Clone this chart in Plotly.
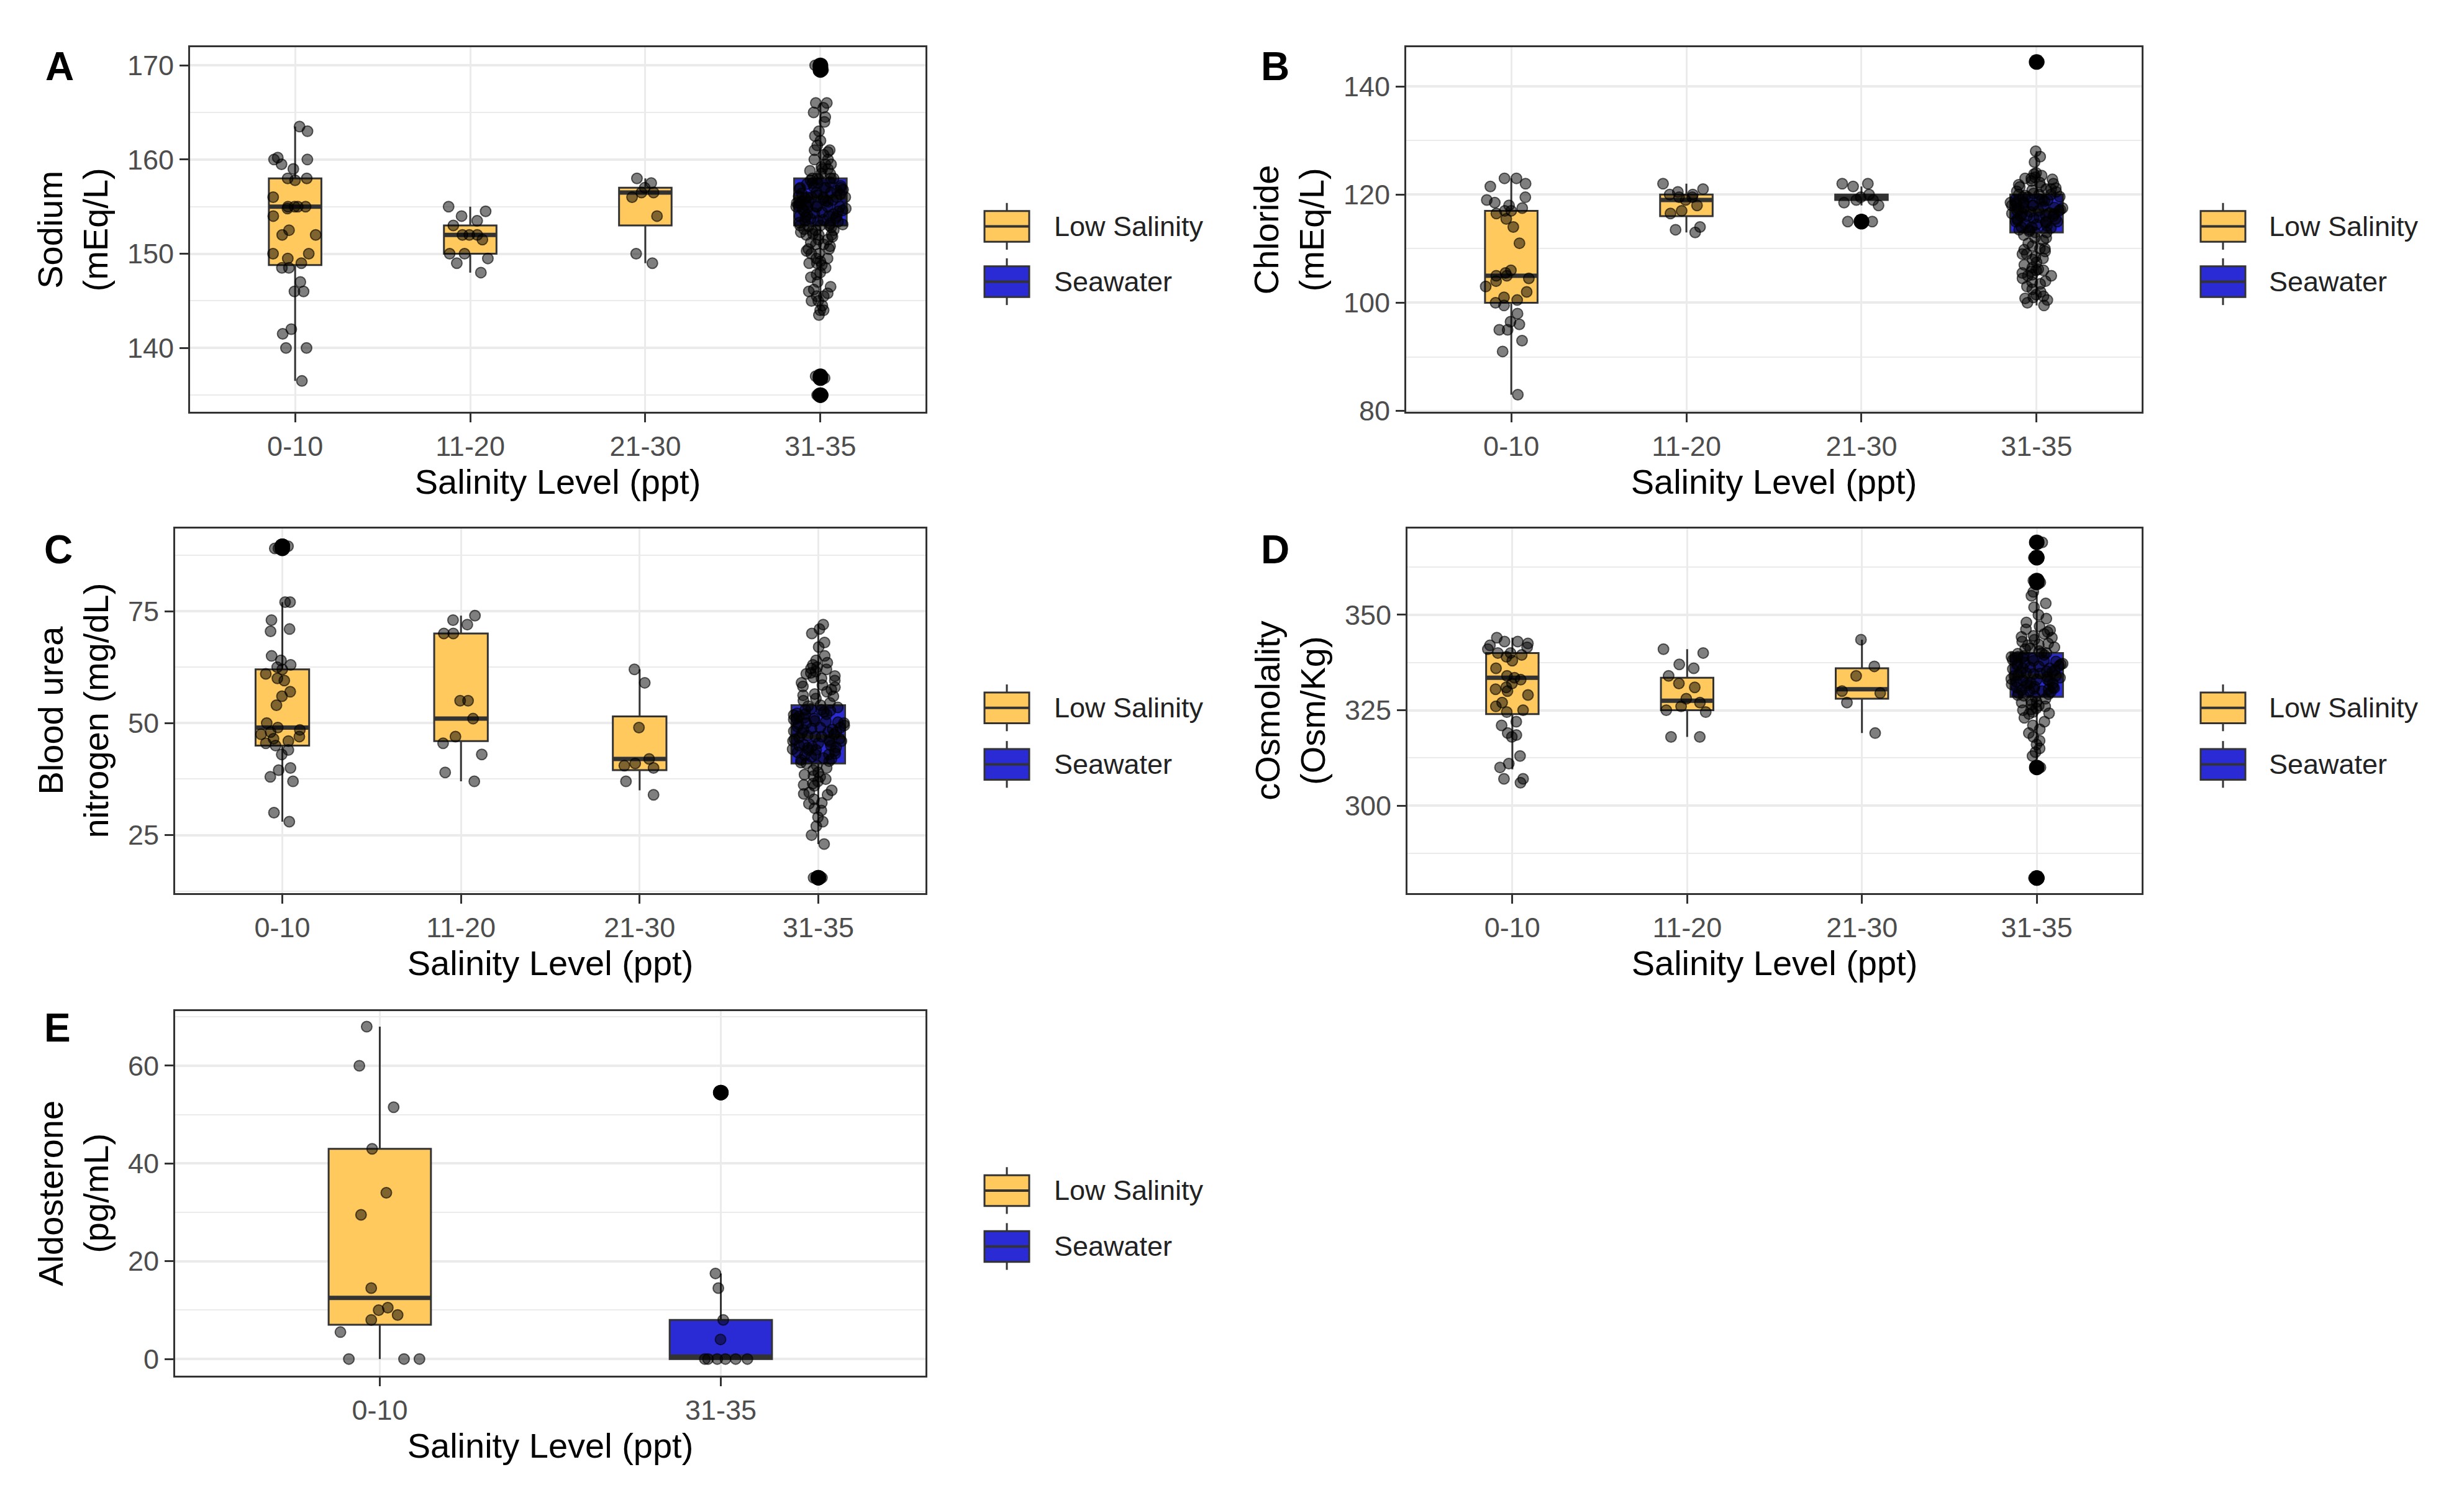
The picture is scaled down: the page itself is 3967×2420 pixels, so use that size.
import plotly.graph_objects as go

# ---------------- data ----------------
categories = ["0-10", "11-20", "21-30", "31-35"]
categories_e = ["0-10", "31-35"]
legend_labels = ["Low Salinity", "Seawater"]
x_title = "Salinity Level (ppt)"

# Panel A: Sodium (mEq/L)
na_q1 = [148.8, 150.0, 153.0, 153.0]
na_med = [155.0, 152.0, 156.5, 156.0]
na_q3 = [158.0, 153.0, 157.0, 158.0]
na_lo = [136.5, 148.0, 149.0, 144.0]
na_hi = [163.5, 155.0, 158.0, 166.0]
na_0_10 = [163.5, 163, 160, 160, 159.5, 160.2, 159, 158, 158, 157.8, 156, 155, 155, 155, 155,
           154.8, 154, 152.5, 152, 152, 150, 150, 149.5, 149, 148.5, 148.5, 147, 146, 146,
           142, 141.5, 140, 140, 136.5]
na_11_20 = [155, 154.5, 154, 153.5, 153, 152, 152, 152, 151.5, 150, 150, 149, 148, 149.5]
na_21_30 = [158, 157.5, 157, 156.5, 156, 156.5, 154, 150, 149]
na_31_35 = [170, 169.5, 169.8, 166, 166, 165.5, 165, 164.5, 164, 163, 162.5, 162, 161.5, 161, 161,
            160.5, 160, 160, 159.5, 159.5, 159, 159, 158.5, 158.5, 158, 158, 158, 157.8, 157.5,
            157.5, 157.2, 157, 157, 157, 156.8, 156.5, 156.5, 156.3, 156, 156, 156, 156, 155.8,
            155.5, 155.5, 155.5, 155.2, 155, 155, 155, 155, 154.8, 154.5, 154.5, 154.2, 154, 154,
            154, 153.8, 153.5, 153.5, 153.2, 153, 153, 153, 152.8, 152.5, 152.5, 152, 152, 152,
            151.5, 151.5, 151, 151, 150.5, 150.5, 150, 150, 149.5, 149.5, 149, 149, 148.5, 148,
            147.5, 147, 146.5, 146, 145.5, 145.5, 145, 145, 144.5, 144, 144, 143.5, 137, 136.8,
            135, 135,
            158, 157.6, 157.4, 157, 156.7, 156.4, 156.2, 156, 155.9, 155.7, 155.4, 155.1, 155,
            154.9, 154.6, 154.3, 154.1, 153.9, 153.6, 153.3, 153.1, 152.9, 152.6, 152.3, 152.1,
            151.8, 151.2, 150.8, 157.9, 156.9, 155.6, 154.4, 153.4, 152.4, 159.2, 160.8, 158.8,
            157.1, 156.1, 155.3, 154.7, 153.7, 150.3, 149.2, 148.8, 147.8, 146.2, 145.8]
na_out = [[], [], [], [170, 169.5, 169.8, 137, 136.8, 135, 135]]

# Panel B: Chloride (mEq/L)
cl_q1 = [100.0, 116.0, 119.0, 113.0]
cl_med = [105.0, 119.0, 119.5, 117.0]
cl_q3 = [117.0, 120.0, 120.0, 120.0]
cl_lo = [83.0, 113.0, 118.0, 99.5]
cl_hi = [123.0, 122.0, 121.5, 128.0]
cl_0_10 = [123, 123, 122, 121.5, 119.5, 119, 118.5, 118, 117.5, 117, 117, 116.5, 115.5, 114, 111,
           106, 105.5, 105, 105, 104.5, 104, 103, 102, 101, 100.5, 100, 99.5, 98, 96.5, 96, 95, 95,
           93, 91, 83]
cl_11_20 = [122, 121, 120.5, 120, 120, 119.5, 119.5, 119, 118, 117, 116.5, 114, 113.5, 113]
cl_21_30 = [122, 122, 121.5, 120, 119.5, 119, 119, 118.5, 118, 115, 115]
cl_31_35 = [144.5, 128, 127, 126, 124, 123.5, 123, 123, 122.5, 122, 121.5, 121, 121, 120.5, 120,
            120, 120, 119.5, 119.5, 119, 119, 119, 118.5, 118.5, 118, 118, 118, 117.5, 117.5, 117,
            117, 117, 116.5, 116.5, 116, 116, 116, 115.5, 115.5, 115, 115, 115, 114.5, 114.5, 114,
            114, 113.5, 113.5, 113, 113, 112.5, 112, 112, 111.5, 111, 110.5, 110, 110, 109.5, 109,
            109, 108.5, 108, 107.5, 107, 106.5, 106, 106, 105.5, 105, 105, 104.5, 104, 103.5, 103,
            102.5, 102, 101.5, 101, 100.5, 100, 99.5,
            123.8, 123.2, 122.8, 122.2, 121.8, 121.2, 120.8, 120.2, 119.8, 119.2, 118.8, 118.2,
            117.8, 117.2, 116.8, 116.2, 115.8, 115.2, 114.8, 114.2, 113.8, 113.2, 120.6, 119.6,
            118.6, 117.6, 116.6, 115.6, 121.4, 118.4, 117.4, 116.4, 106.2, 105.8, 105.2, 109.8,
            108.2, 101.2, 100.8, 103.8]
cl_out = [[], [], [115, 115], [144.5]]

# Panel C: Blood urea nitrogen (mg/dL)
bun_q1 = [45.0, 46.0, 39.5, 41.0]
bun_med = [49.0, 51.0, 42.0, 47.0]
bun_q3 = [62.0, 70.0, 51.5, 54.0]
bun_lo = [28.0, 37.0, 35.0, 23.0]
bun_hi = [77.0, 74.0, 62.0, 72.0]
bun_0_10 = [89.5, 89.5, 89, 89, 77, 77, 73, 71, 70.5, 65, 64, 63, 62.5, 62, 61, 60, 59.5, 57, 56,
            54, 50, 49, 48.5, 48, 47.5, 47, 46.5, 46, 45.5, 45, 44, 43, 40, 39.5, 38, 37, 30, 28]
bun_11_20 = [74, 73, 72, 70, 70, 55, 55, 51, 47, 45.5, 43, 39, 37]
bun_21_30 = [62, 59, 49, 42, 41, 40.5, 40, 37, 34]
bun_31_35 = [72, 71, 70, 68, 67, 65, 64, 63.5, 63, 62.5, 62, 61.5, 61, 60.5, 60, 59.5, 59, 58.5, 58,
             57.5, 57, 56.5, 56, 55.5, 55, 54.5, 54, 53.5, 53, 53, 52.5, 52, 52, 51.5, 51, 51, 50.5,
             50, 50, 49.5, 49, 49, 48.5, 48, 48, 47.5, 47, 47, 46.5, 46, 46, 45.5, 45, 45, 44.5, 44,
             44, 43.5, 43, 43, 42.5, 42, 41.5, 41, 40.5, 40, 39.5, 39, 38.5, 38, 37.5, 37, 36.5, 36,
             35, 34.5, 34, 33, 32, 31, 30.5, 29, 28, 27, 25, 23, 15.5, 15.5,
             53.8, 53.2, 52.8, 52.2, 51.8, 51.2, 50.8, 50.2, 49.8, 49.2, 48.8, 48.2, 47.8, 47.2,
             46.8, 46.2, 45.8, 45.2, 44.8, 44.2, 43.8, 43.2, 42.8, 42.2, 41.8, 41.2, 50.4, 48.6,
             46.4, 44.6, 60.2, 58.2, 56.2, 62.2, 61.2, 38.2, 36.2, 34.2, 32.2]
bun_out = [[89.5, 89.5, 89], [], [], [15.5, 15.5]]

# Panel D: cOsmolality (Osm/Kg)
osm_q1 = [324.0, 325.0, 328.0, 328.5]
osm_med = [333.5, 327.5, 330.5, 334.0]
osm_q3 = [340.0, 333.5, 336.0, 340.0]
osm_lo = [309.5, 318.0, 319.0, 312.0]
osm_hi = [344.0, 341.0, 343.5, 356.0]
osm_0_10 = [344, 343, 343, 342.5, 342, 341.5, 341, 340, 340, 339.5, 339, 338, 336, 334, 333.5, 333,
            332, 331, 330.5, 330, 329, 327, 326, 325, 324.5, 322, 321, 319, 318.5, 318, 313, 311,
            310, 307, 307, 306]
osm_11_20 = [341, 340, 337, 336, 334, 332, 331, 328, 327, 326, 325, 324.5, 318, 318]
osm_21_30 = [343.5, 336.5, 334, 330, 329.5, 327, 319]
osm_31_35 = [369, 365, 365, 359, 358.5, 358, 356, 355, 353, 352, 350, 349, 348, 347, 346, 345.5,
             345, 344.5, 344, 343.5, 343, 342.5, 342, 341.5, 341, 340.5, 340, 340, 339.5, 339, 339,
             338.5, 338, 338, 337.5, 337, 337, 336.5, 336, 336, 335.5, 335, 335, 334.5, 334, 334,
             333.5, 333, 333, 332.5, 332, 332, 331.5, 331, 331, 330.5, 330, 330, 329.5, 329, 328.5,
             328, 327.5, 327, 326.5, 326, 325.5, 325, 324.5, 324, 323, 322, 321, 320, 319, 318, 317,
             316, 315, 314, 313, 310, 281, 281,
             339.8, 339.2, 338.8, 338.2, 337.8, 337.2, 336.8, 336.2, 335.8, 335.2, 334.8, 334.2,
             333.8, 333.2, 332.8, 332.2, 331.8, 331.2, 330.8, 330.2, 329.8, 329.2, 328.8, 338.6,
             336.6, 334.6, 332.6, 330.6, 342.2, 341.2, 344.2, 346.2, 324.2, 325.2, 326.2, 327.2]
osm_out = [[], [], [], [369, 365, 365, 359, 358.5, 310, 281, 281]]

# Panel E: Aldosterone (pg/mL)
ald_q1 = [7.0, 0.0]
ald_med = [12.5, 0.5]
ald_q3 = [43.0, 8.0]
ald_lo = [0.0, 0.0]
ald_hi = [68.0, 17.5]
ald_0_10 = [68, 60, 51.5, 43, 34, 29.5, 14.5, 10.5, 10, 9, 8, 5.5, 0, 0, 0]
ald_31_35 = [54.5, 54.5, 17.5, 14.5, 8, 4, 0, 0, 0, 0, 0, 0]
ald_out = [[], [54.5, 54.5]]

# ---------------- style ----------------
W, H = 3967, 2420
FONT = "Liberation Sans, Arial, sans-serif"
LOW = "#FFC95E"
SEA = "#2B2BD6"
EDGE = "#333333"
GRID = "#EBEBEB"
TICKC = "#4D4D4D"

panels = [
    dict(letter="A", ytitle="Sodium<br>(mEq/L)", cats=categories,
         q1=na_q1, med=na_med, q3=na_q3, lo=na_lo, hi=na_hi,
         pts=[na_0_10, na_11_20, na_21_30, na_31_35], out=na_out,
         px=(298, 1482), py=(69, 662), yr=[133.2, 171.9], dt=10, t0=0,
         lp=(1577, 1687, [360, 450]), lpos=(88, 100)),
    dict(letter="B", ytitle="Chloride<br>(mEq/L)", cats=categories,
         q1=cl_q1, med=cl_med, q3=cl_q3, lo=cl_lo, hi=cl_hi,
         pts=[cl_0_10, cl_11_20, cl_21_30, cl_31_35], out=cl_out,
         px=(2256, 3440), py=(69, 662), yr=[79.8, 147.2], dt=20, t0=0,
         lp=(3535, 3643, [360, 450]), lpos=(2045, 100)),
    dict(letter="C", ytitle="Blood urea<br>nitrogen (mg/dL)", cats=categories,
         q1=bun_q1, med=bun_med, q3=bun_q3, lo=bun_lo, hi=bun_hi,
         pts=[bun_0_10, bun_11_20, bun_21_30, bun_31_35], out=bun_out,
         px=(274, 1482), py=(851, 1444), yr=[12.1, 93.5], dt=25, t0=0,
         lp=(1577, 1687, [1143, 1235]), lpos=(86, 886)),
    dict(letter="D", ytitle="cOsmolality<br>(Osm/Kg)", cats=categories,
         q1=osm_q1, med=osm_med, q3=osm_q3, lo=osm_lo, hi=osm_hi,
         pts=[osm_0_10, osm_11_20, osm_21_30, osm_31_35], out=osm_out,
         px=(2258, 3440), py=(851, 1444), yr=[277.1, 372.7], dt=25, t0=0,
         lp=(3535, 3643, [1143, 1235]), lpos=(2045, 886)),
    dict(letter="E", ytitle="Aldosterone<br>(pg/mL)", cats=categories_e,
         q1=ald_q1, med=ald_med, q3=ald_q3, lo=ald_lo, hi=ald_hi,
         pts=[ald_0_10, ald_31_35], out=ald_out,
         px=(274, 1482), py=(1636, 2229), yr=[-3.4, 71.2], dt=20, t0=0,
         lp=(1577, 1687, [1928, 2019]), lpos=(84, 1663)),
]

fig = go.Figure()
layout = dict(width=W, height=H, margin=dict(l=0, r=0, t=0, b=0),
              paper_bgcolor="white", plot_bgcolor="white", showlegend=False,
              boxmode="overlay", font=dict(family=FONT, color="black"))
shapes, annotations = [], []


def fx(x):
    return x / W


def fy(y):
    return 1 - y / H


for i, p in enumerate(panels):
    sfx = "" if i == 0 else str(i + 1)
    xa, ya = "x" + sfx, "y" + sfx
    cats = p["cats"]
    fills = [SEA if c == "31-35" else LOW for c in cats]
    # boxes
    for j, c in enumerate(cats):
        fig.add_trace(go.Box(
            x=[c], q1=[p["q1"][j]], median=[p["med"][j]], q3=[p["q3"][j]],
            lowerfence=[p["lo"][j]], upperfence=[p["hi"][j]],
            fillcolor=fills[j], line=dict(color=EDGE, width=3), width=0.3,
            whiskerwidth=0, boxpoints=False, xaxis=xa, yaxis=ya,
            showlegend=False, hoverinfo="skip"))
        # thicker median bar
        m = p["med"][j]
        fig.add_trace(go.Box(
            x=[c], q1=[m], median=[m], q3=[m], lowerfence=[m], upperfence=[m],
            fillcolor=EDGE, line=dict(color=EDGE, width=7), width=0.3,
            whiskerwidth=0, boxpoints=False, xaxis=xa, yaxis=ya,
            showlegend=False, hoverinfo="skip"))
    # jittered points
    for j, c in enumerate(cats):
        pts = p["pts"][j]
        fig.add_trace(go.Box(
            x=[c] * len(pts), y=pts, boxpoints="all", jitter=1, pointpos=0,
            width=0.3, fillcolor="rgba(0,0,0,0)",
            line=dict(color="rgba(0,0,0,0)", width=0),
            marker=dict(color="rgba(0,0,0,0.5)", size=17,
                        line=dict(color="rgba(0,0,0,0.6)", width=2)),
            xaxis=xa, yaxis=ya, showlegend=False, hoverinfo="y"))
        o = p["out"][j]
        if o:
            fig.add_trace(go.Box(
                x=[c] * len(o), y=o, boxpoints="all", jitter=0, pointpos=0,
                width=0.3, fillcolor="rgba(0,0,0,0)",
                line=dict(color="rgba(0,0,0,0)", width=0),
                marker=dict(color="black", size=25),
                xaxis=xa, yaxis=ya, showlegend=False, hoverinfo="y"))

    x0, x1 = p["px"]
    y0, y1 = p["py"]
    layout["xaxis" + sfx] = dict(
        domain=[fx(x0), fx(x1)], anchor=ya, type="category",
        categoryorder="array", categoryarray=cats,
        range=[-0.6, len(cats) - 0.4],
        showgrid=True, gridcolor=GRID, gridwidth=3,
        showline=True, linecolor=EDGE, linewidth=3, mirror=True, zeroline=False,
        ticks="outside", ticklen=14, tickwidth=3, tickcolor=EDGE,
        tickfont=dict(family=FONT, size=45, color=TICKC),
        title=dict(text=x_title, font=dict(family=FONT, size=56, color="black"),
                   standoff=12))
    layout["yaxis" + sfx] = dict(
        domain=[fy(y1), fy(y0)], anchor=xa, range=p["yr"],
        dtick=p["dt"], tick0=p["t0"],
        showgrid=True, gridcolor=GRID, gridwidth=3.5,
        minor=dict(dtick=p["dt"] / 2, showgrid=True, gridcolor=GRID, gridwidth=2),
        showline=True, linecolor=EDGE, linewidth=3, mirror=True, zeroline=False,
        ticks="outside", ticklen=14, tickwidth=3, tickcolor=EDGE,
        tickfont=dict(family=FONT, size=45, color=TICKC),
        title=dict(text=p["ytitle"], font=dict(family=FONT, size=56, color="black"),
                   standoff=14))

    # panel tag
    annotations.append(dict(
        x=fx(p["lpos"][0]), y=fy(p["lpos"][1]), xref="paper", yref="paper",
        text="<b>" + p["letter"] + "</b>", showarrow=False,
        font=dict(family=FONT, size=64, color="black"),
        xanchor="center", yanchor="middle"))

    # legend
    kx0, tx, rows = p["lp"]
    kx1 = kx0 + 72
    kc = (kx0 + kx1) / 2
    for lab, col, ry in zip(legend_labels, [LOW, SEA], rows):
        shapes.append(dict(type="line", xref="paper", yref="paper",
                           x0=fx(kc), x1=fx(kc), y0=fy(ry - 38), y1=fy(ry + 38),
                           line=dict(color=EDGE, width=3), layer="above"))
        shapes.append(dict(type="rect", xref="paper", yref="paper",
                           x0=fx(kx0), x1=fx(kx1), y0=fy(ry - 25), y1=fy(ry + 25),
                           fillcolor=col, line=dict(color=EDGE, width=3), layer="above"))
        shapes.append(dict(type="line", xref="paper", yref="paper",
                           x0=fx(kx0), x1=fx(kx1), y0=fy(ry), y1=fy(ry),
                           line=dict(color=EDGE, width=4), layer="above"))
        annotations.append(dict(
            x=fx(tx), y=fy(ry), xref="paper", yref="paper", text=lab,
            showarrow=False, xanchor="left", yanchor="middle",
            font=dict(family=FONT, size=45, color="#222222")))

layout["shapes"] = shapes
layout["annotations"] = annotations
fig.update_layout(**layout)
fig.write_html("out.html")
